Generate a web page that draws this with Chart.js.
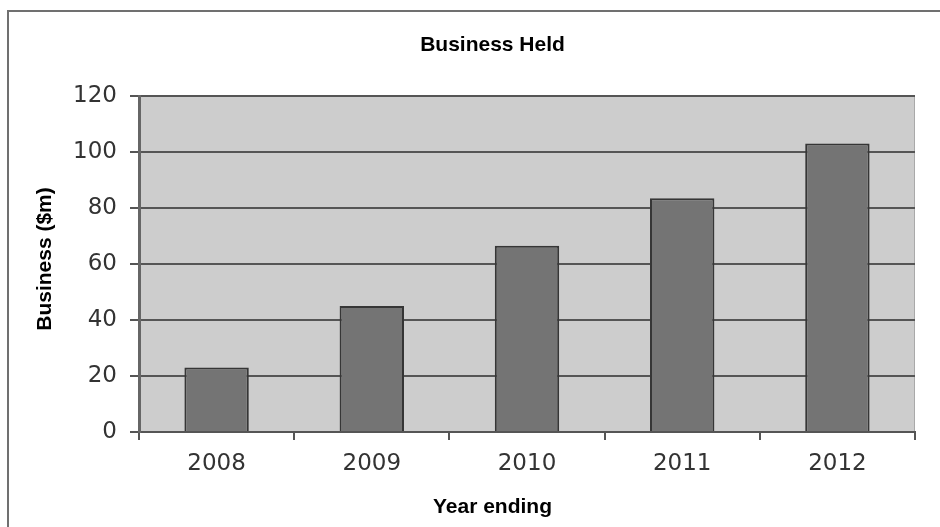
<!DOCTYPE html>
<html>
<head>
<meta charset="utf-8">
<script src="https://cdn.jsdelivr.net/npm/chart.js@4"></script>
<style>
html,body{margin:0;padding:0;background:#fff;}
#wrap{width:940px;height:527px;position:relative;}
</style>
</head>
<body>
<div id="wrap"><canvas id="c" width="940" height="527"></canvas></div>
<script>
const categories = ['2008', '2009', '2010', '2011', '2012'];
const businessValues = [23, 45, 66.5, 83.5, 103];
const yTicks = [0, 20, 40, 60, 80, 100, 120];
const chartTitle = 'Business Held';
const xTitle = 'Year ending';
const yTitle = 'Business ($m)';

const decor = {
  id: 'decor',
  beforeDraw(chart) {
    const {ctx, chartArea: a} = chart;
    ctx.save();
    ctx.fillStyle = '#cdcdcd';
    ctx.fillRect(a.left, a.top, a.right - a.left, a.bottom - a.top);
    ctx.strokeStyle = '#a9a9a9';
    ctx.lineWidth = 1;
    ctx.beginPath();
    ctx.moveTo(a.left, a.top + 0.5);
    ctx.lineTo(a.right - 0.5, a.top + 0.5);
    ctx.lineTo(a.right - 0.5, a.bottom);
    ctx.stroke();
    ctx.restore();
  },
  afterDraw(chart) {
    const {ctx} = chart;
    ctx.save();
    // outer frame (top and left edges)
    ctx.strokeStyle = '#707070';
    ctx.lineWidth = 2;
    ctx.beginPath();
    ctx.moveTo(940, 11);
    ctx.lineTo(8, 11);
    ctx.lineTo(8, 527);
    ctx.stroke();
    // titles
    ctx.fillStyle = '#000';
    ctx.textAlign = 'center';
    ctx.textBaseline = 'alphabetic';
    ctx.font = 'bold 21px "Liberation Sans", Arial, sans-serif';
    ctx.fillText(chartTitle, 492.5, 51);
    ctx.fillText(xTitle, 492.5, 513);
    ctx.translate(51, 259);
    ctx.rotate(-Math.PI / 2);
    ctx.fillText(yTitle, 0, 0);
    ctx.restore();
  }
};

new Chart(document.getElementById('c'), {
  type: 'bar',
  data: {
    labels: categories,
    datasets: [{
      data: businessValues,
      backgroundColor: '#747474',
      borderColor: '#363636',
      borderWidth: 2,
      categoryPercentage: 1,
      barPercentage: 0.415
    }]
  },
  options: {
    responsive: false,
    animation: false,
    layout: {padding: {top: 96, right: 25, left: 0, bottom: 0}},
    plugins: {legend: {display: false}, title: {display: false}, tooltip: {enabled: false}},
    scales: {
      x: {
        afterFit(scale) { scale.height = 95; },
        grid: {display: true, drawOnChartArea: false, drawTicks: true, tickLength: 8, color: '#555', lineWidth: 2, offset: true},
        border: {display: true, color: '#555', width: 2},
        ticks: {color: '#333', padding: 10, font: {family: '"DejaVu Sans", Verdana, sans-serif', size: 23}}
      },
      y: {
        min: 0, max: 120,
        afterFit(scale) { scale.width = 139; },
        afterBuildTicks(scale) { scale.ticks = yTicks.map(v => ({value: v})); },
        grid: {color: '#555', lineWidth: 2, tickLength: 9, drawTicks: true},
        border: {display: true, color: '#666', width: 3},
        ticks: {color: '#333', padding: 13, font: {family: '"DejaVu Sans", Verdana, sans-serif', size: 23}}
      }
    }
  },
  plugins: [decor]
});
</script>
</body>
</html>
